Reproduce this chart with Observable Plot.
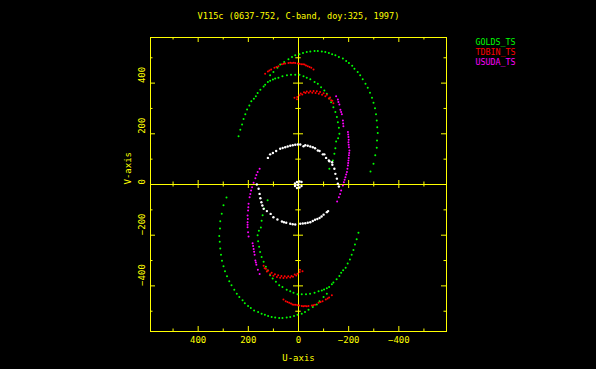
<!DOCTYPE html>
<html><head><meta charset="utf-8">
<script src="https://cdn.jsdelivr.net/npm/d3@7"></script>
<script src="https://cdn.jsdelivr.net/npm/@observablehq/plot@0.6"></script>
<style>html,body{margin:0;padding:0;background:#000;}#chart{width:596px;height:369px;overflow:hidden}</style>
</head><body><div id="chart"></div>
<script>
const title = "V115c (0637-752, C-band, doy:325, 1997)";
const seriesNames = ["GOLDS_TS", "TDBIN_TS", "USUDA_TS"];
const xTickLabels = [400, 200, 0, -200, -400];
const yTickLabels = [400, 200, 0, -200, -400];
const majorTicks = [-400, -200, 0, 200, 400];
const minorTicks = [-500, -300, -100, 100, 300, 500];
const axisTicksMajor = [-400, -200, 200, 400];
const axisTicksMinor = [-500, -300, -100, 100, 300, 500];

// GOLDS_TS  (u, v) samples
const goldsOuterTop = [[113,431],[100,444],[84,461],[73,473],[57,483],[40,494],[26,503],[13,510],[-4,514],[-18,519],[-33,523],[-47,525],[-64,527],[-77,527],[-93,525],[-107,523],[-121,519],[-134,514],[-147,510],[-161,503],[-177,497],[-190,487],[-201,479],[-214,469],[-223,457],[-236,444],[-246,431],[-256,415],[-267,398],[-276,382],[-285,362],[-293,342],[-299,323],[-305,301],[-309,277],[-312,253],[-314,226],[-316,203],[-313,174],[-312,145],[-306,115],[-299,82],[-287,51]];
const goldsOuterBottom = [[-113,-431],[-100,-444],[-84,-461],[-73,-473],[-57,-483],[-40,-494],[-26,-503],[-13,-510],[4,-514],[18,-519],[33,-523],[47,-525],[64,-527],[77,-527],[93,-525],[107,-523],[121,-519],[134,-514],[147,-510],[161,-503],[177,-497],[190,-487],[201,-479],[214,-469],[223,-457],[236,-444],[246,-431],[256,-415],[267,-398],[276,-382],[285,-362],[293,-342],[299,-323],[305,-301],[309,-277],[312,-253],[314,-226],[316,-203],[313,-174],[312,-145],[306,-115],[299,-82],[287,-51]];
const goldsInnerTop = [[239,190],[232,216],[225,237],[219,258],[212,277],[205,296],[196,312],[188,328],[178,338],[170,348],[163,361],[152,374],[139,387],[133,394],[122,404],[113,409],[102,414],[93,418],[80,421],[64,427],[46,431],[30,433],[13,433],[-4,433],[-20,427],[-33,421],[-47,415],[-64,404],[-77,398],[-90,384],[-103,371],[-113,358],[-123,339],[-130,325],[-139,305],[-147,286],[-153,266],[-157,246],[-161,224],[-163,200],[-158,182],[-150,170],[-147,143],[-143,121],[-137,95],[-123,62]];
const goldsInnerBottom = [[-239,-190],[-232,-216],[-225,-237],[-219,-258],[-212,-277],[-205,-296],[-196,-312],[-188,-328],[-178,-338],[-170,-348],[-163,-361],[-152,-374],[-139,-387],[-133,-394],[-122,-404],[-113,-409],[-102,-414],[-93,-418],[-80,-421],[-64,-427],[-46,-431],[-30,-433],[-13,-433],[4,-433],[20,-427],[33,-421],[47,-415],[64,-404],[77,-398],[90,-384],[103,-371],[113,-358],[123,-339],[130,-325],[139,-305],[147,-286],[153,-266],[157,-246],[161,-224],[163,-200],[158,-182],[150,-170],[147,-143],[143,-121],[137,-95],[123,-62]];

// TDBIN_TS
const tdbinOuterTop = [[133,437],[122,446],[116,450],[109,454],[96,461],[88,464],[80,467],[66,474],[59,476],[53,477],[40,479],[33,480],[26,479],[19,480],[13,479],[3,477],[-4,476],[-11,474],[-18,474],[-24,473],[-30,470],[-37,467],[-44,464],[-51,461],[-60,454]];
const tdbinOuterBottom = [[-133,-437],[-122,-446],[-116,-450],[-109,-454],[-96,-461],[-88,-464],[-80,-467],[-66,-474],[-59,-476],[-53,-477],[-40,-479],[-33,-480],[-26,-479],[-19,-480],[-13,-479],[-3,-477],[4,-476],[11,-474],[18,-474],[24,-473],[30,-470],[37,-467],[44,-464],[51,-461],[60,-454]];
const tdbinInnerTop = [[16,342],[6,336],[5,345],[-4,352],[-9,359],[-15,355],[-22,364],[-28,361],[-33,367],[-41,362],[-47,368],[-55,362],[-60,369],[-68,361],[-73,368],[-81,358],[-86,365],[-94,354],[-100,360],[-107,348],[-113,354],[-121,339],[-126,343],[-130,332],[-135,330],[-139,321]];
const tdbinInnerBottom = [[-16,-342],[-6,-336],[-5,-345],[4,-352],[9,-359],[15,-355],[22,-364],[28,-361],[33,-367],[41,-362],[47,-368],[55,-362],[60,-369],[68,-361],[73,-368],[81,-358],[86,-365],[94,-354],[100,-360],[107,-348],[113,-354],[121,-339],[126,-343],[130,-332],[135,-330],[139,-321]];

// USUDA_TS
const usudaTopA = [[-150,348],[-157,335],[-159,326],[-163,316],[-167,295],[-170,286],[-173,277],[-177,253],[-178,241],[-179,230]];
const usudaTopB = [[-197,207],[-198,197],[-199,187],[-200,177],[-199,167],[-200,157],[-201,147],[-203,134],[-202,124],[-201,115],[-200,105],[-199,95],[-198,85],[-197,75],[-195,62],[-193,49],[-190,39],[-187,29],[-184,19],[-181,9],[-177,-4],[-170,-24],[-166,-37],[-161,-50],[-154,-67]];
const usudaBottomB = [[155,62],[163,49],[168,37],[172,25],[179,7],[185,-11],[189,-24],[192,-37],[195,-50],[199,-76],[200,-90],[201,-103],[203,-122],[202,-136],[203,-149],[203,-159],[203,-169],[201,-188],[199,-205]];
const usudaBottomA = [[183,-232],[181,-243],[179,-254],[177,-265],[175,-277],[172,-300],[170,-308],[168,-317],[162,-336],[155,-353]];

// unlabelled (white) short baseline
const whiteTop = [[122,105],[113,119],[102,124],[89,132],[73,141],[63,144],[53,147],[43,150],[33,153],[23,155],[13,157],[3,158],[-7,158],[-20,151],[-27,155],[-37,153],[-47,150],[-57,147],[-66,143],[-77,134],[-84,132],[-97,119],[-103,119],[-110,105],[-121,95],[-123,92],[-134,88],[-135,78],[-143,62],[-147,42],[-153,23],[-157,3],[-161,-8]];
const whiteBottom = [[166,0],[159,-17],[155,-37],[152,-54],[148,-70],[144,-83],[139,-96],[126,-105],[111,-116],[100,-129],[84,-138],[66,-146],[58,-149],[49,-151],[33,-155],[23,-157],[13,-158],[-7,-155],[-17,-154],[-27,-153],[-37,-151],[-47,-149],[-57,-144],[-66,-139],[-75,-136],[-84,-132],[-92,-126],[-100,-119],[-113,-109],[-118,-105]];
const whiteCentre = [[-12,10],[-4,12],[6,10],[14,4],[14,-6],[6,-14],[-4,-12],[-12,-6],[0,0],[4,-2]];

const Y = "#ffff00", G = "#00ff00", R = "#ff0000", M = "#ff00ff", W = "#ffffff";
const fmt = d => d < 0 ? "\u2212" + (-d) : String(d);
const pts = (arr) => arr.map(([u, v]) => ({u, v}));
const dots = (arr, fill, r = 1) => Plot.dot(pts(arr), {x: "u", y: "v", r, fill, stroke: null});

const FH = 294, FW = 296;
const chart = Plot.plot({
  width: 596, height: 369,
  marginLeft: 150, marginRight: 150, marginTop: 37, marginBottom: 38,
  x: {domain: [590, -590], axis: null},
  y: {domain: [-580, 580], axis: null},
  style: {background: "#000", fontFamily: "DejaVu Sans Mono", fontSize: "9px", color: Y},
  marks: [
    Plot.frame({stroke: Y}),
    Plot.ruleX([0], {stroke: Y}),
    Plot.ruleY([0], {stroke: Y}),
    // frame ticks (inward)
    Plot.tickX(majorTicks, {x: d => d, stroke: Y, insetBottom: FH - 5}),
    Plot.tickX(minorTicks, {x: d => d, stroke: Y, insetBottom: FH - 2.5}),
    Plot.tickX(majorTicks, {x: d => d, stroke: Y, insetTop: FH - 5}),
    Plot.tickX(minorTicks, {x: d => d, stroke: Y, insetTop: FH - 2.5}),
    Plot.tickY(majorTicks, {y: d => d, stroke: Y, insetRight: FW - 5}),
    Plot.tickY(minorTicks, {y: d => d, stroke: Y, insetRight: FW - 2.5}),
    Plot.tickY(majorTicks, {y: d => d, stroke: Y, insetLeft: FW - 5}),
    Plot.tickY(minorTicks, {y: d => d, stroke: Y, insetLeft: FW - 2.5}),
    // ticks on zero axes
    Plot.tickX(axisTicksMajor, {x: d => d, stroke: Y, insetTop: 143, insetBottom: 143}),
    Plot.tickX(axisTicksMinor, {x: d => d, stroke: Y, insetTop: 144.5, insetBottom: 144.5}),
    Plot.tickY(axisTicksMajor, {y: d => d, stroke: Y, insetLeft: 143, insetRight: 143}),
    Plot.tickY(axisTicksMinor, {y: d => d, stroke: Y, insetLeft: 145.3, insetRight: 145.3}),
    // data
    dots(goldsOuterTop, G), dots(goldsOuterBottom, G),
    dots(goldsInnerTop, G), dots(goldsInnerBottom, G),
    dots(tdbinOuterTop, R), dots(tdbinOuterBottom, R),
    dots(tdbinInnerTop, R), dots(tdbinInnerBottom, R),
    dots(usudaTopA, M), dots(usudaTopB, M), dots(usudaBottomA, M), dots(usudaBottomB, M),
    dots(whiteTop, W, 1.2), dots(whiteBottom, W, 1.2), dots(whiteCentre, W, 1.2),
    // tick labels
    Plot.text(xTickLabels, {x: d => d, text: fmt, frameAnchor: "bottom", dy: 8.5, fill: Y, lineAnchor: "middle"}),
    Plot.text(yTickLabels, {y: d => d, text: fmt, frameAnchor: "left", dx: -8.3, rotate: -90, fill: Y, lineAnchor: "middle"}),
    Plot.text(["U-axis"], {frameAnchor: "bottom", dy: 26.7, fill: Y, lineAnchor: "middle"}),
    Plot.text(["V-axis"], {frameAnchor: "left", dx: -22.3, rotate: -90, fill: Y, lineAnchor: "middle"}),
    Plot.text([title], {frameAnchor: "top", dy: -21, fill: Y, lineAnchor: "middle", fontSize: 8.6}),
    Plot.text([seriesNames[0]], {frameAnchor: "top-right", dx: 29, dy: 5, fill: G, textAnchor: "start", lineAnchor: "middle", fontSize: 8.3}),
    Plot.text([seriesNames[1]], {frameAnchor: "top-right", dx: 29, dy: 15, fill: R, textAnchor: "start", lineAnchor: "middle", fontSize: 8.3}),
    Plot.text([seriesNames[2]], {frameAnchor: "top-right", dx: 29, dy: 25, fill: M, textAnchor: "start", lineAnchor: "middle", fontSize: 8.3})
  ]
});
document.getElementById("chart").appendChild(chart);
</script>
</body></html>
